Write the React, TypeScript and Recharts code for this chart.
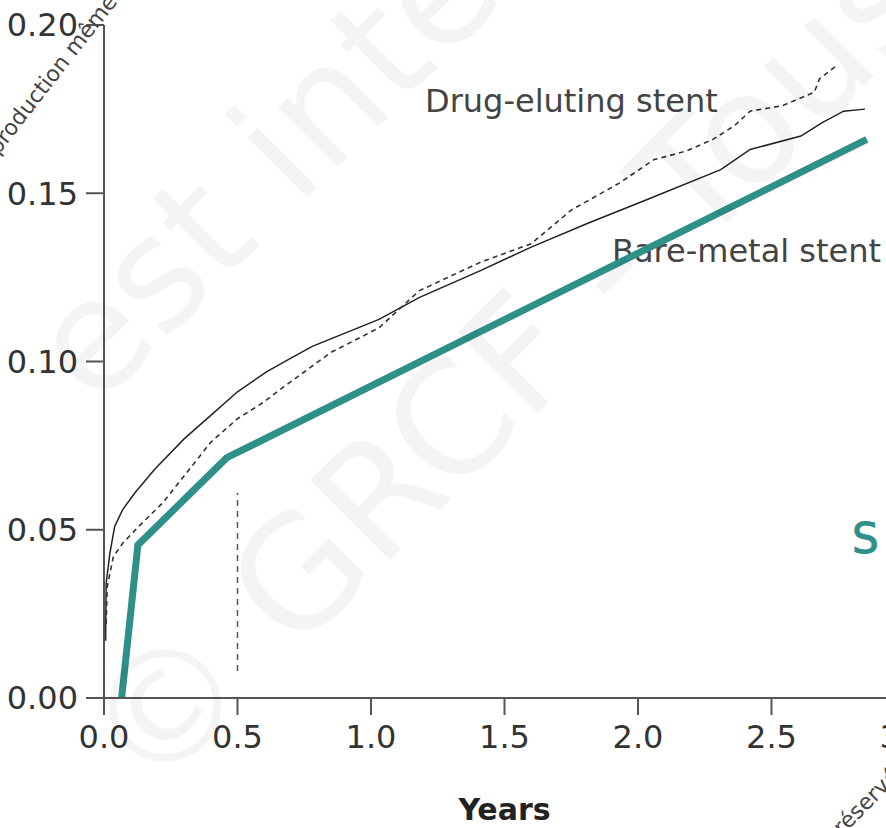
import React from 'react'
import { LineChart, Line, XAxis, YAxis, ReferenceLine } from 'recharts'

// cumulative event rate
const bareMetalYears = [0.006, 0.008, 0.022, 0.04, 0.07, 0.116, 0.19, 0.3, 0.4, 0.5, 0.61, 0.7, 0.78, 1.03, 1.18, 1.41, 1.6, 1.81, 2.03, 2.31, 2.42, 2.61, 2.69, 2.77, 2.85]
const bareMetalRate = [0.017, 0.034, 0.043, 0.051, 0.056, 0.061, 0.068, 0.077, 0.084, 0.091, 0.097, 0.101, 0.1045, 0.1125, 0.119, 0.127, 0.134, 0.141, 0.148, 0.157, 0.163, 0.167, 0.171, 0.1744, 0.175]

const drugElutingYears = [0.008, 0.012, 0.035, 0.07, 0.13, 0.22, 0.3, 0.4, 0.5, 0.6, 0.66, 0.85, 1.03, 1.18, 1.41, 1.6, 1.75, 1.93, 2.06, 2.18, 2.28, 2.36, 2.42, 2.54, 2.66, 2.68, 2.745]
const drugElutingRate = [0.022, 0.033, 0.042, 0.046, 0.051, 0.058, 0.066, 0.076, 0.083, 0.088, 0.0917, 0.1027, 0.11, 0.121, 0.1295, 0.135, 0.145, 0.153, 0.16, 0.1625, 0.166, 0.17, 0.1744, 0.176, 0.18, 0.184, 0.188]

// piecewise trend drawn over the curves
const trendYears = [0.066, 0.127, 0.46, 2.857]
const trendRate = [0, 0.0455, 0.0714, 0.166]

// dashed marker at six months
const markerYear = 0.5
const markerRange = [0.008, 0.061]

const xTicks = [0, 0.5, 1, 1.5, 2, 2.5, 3]
const yTicks = [0, 0.05, 0.1, 0.15, 0.2]

const zip = (xs: number[], ys: number[]) => xs.map((x, i) => ({ x, y: ys[i] }))

const bareMetal = zip(bareMetalYears, bareMetalRate)
const drugEluting = zip(drugElutingYears, drugElutingRate)
const trend = zip(trendYears, trendRate)

const font = 'DejaVu Sans'
const axisGrey = '#555'
const teal = '#2f8f89'

export default function App() {
  return (
    <div style={{ position: 'absolute', left: 0, top: 0, width: 886, height: 828, overflow: 'hidden', background: '#fff' }}>
      <LineChart width={930} height={828} margin={{ top: 25, right: 25, left: 0, bottom: 0 }}>
        <XAxis
          type="number"
          dataKey="x"
          domain={[0, 3]}
          ticks={xTicks}
          tickFormatter={(v: number) => v.toFixed(1)}
          height={130}
          tickSize={17}
          tickMargin={10}
          axisLine={{ stroke: axisGrey, strokeWidth: 2 }}
          tickLine={{ stroke: axisGrey, strokeWidth: 2 }}
          tick={{ fill: '#333', fontSize: 32, fontFamily: font }}
          label={{ value: 'Years', position: 'insideBottom', offset: 8, fill: '#222', fontSize: 30, fontWeight: 700, fontFamily: font }}
        />
        <YAxis
          type="number"
          domain={[0, 0.2]}
          ticks={yTicks}
          tickFormatter={(v: number) => v.toFixed(2)}
          width={104}
          tickSize={18}
          tickMargin={8}
          axisLine={{ stroke: axisGrey, strokeWidth: 2 }}
          tickLine={{ stroke: axisGrey, strokeWidth: 2 }}
          tick={{ fill: '#333', fontSize: 32, fontFamily: font }}
        />
        <ReferenceLine
          segment={[{ x: markerYear, y: markerRange[0] }, { x: markerYear, y: markerRange[1] }]}
          stroke="#555"
          strokeWidth={1.5}
          strokeDasharray="6 5"
        />
        <Line data={bareMetal} dataKey="y" type="linear" stroke="#222" strokeWidth={1.5} dot={false} isAnimationActive={false} />
        <Line data={drugEluting} dataKey="y" type="linear" stroke="#333" strokeWidth={1.6} strokeDasharray="5 4" dot={false} isAnimationActive={false} />
        <Line data={trend} dataKey="y" type="linear" stroke={teal} strokeWidth={7} dot={false} isAnimationActive={false} />
        <text x={425} y={112} fontFamily={font} fontSize={32} fill="#444">Drug-eluting stent</text>
        <text x={612} y={262} fontFamily={font} fontSize={32} fill="#444">Bare-metal stent</text>
        <text x={852} y={553} fontFamily={font} fontSize={42} fill={teal} stroke={teal} strokeWidth={1}>S</text>
      </LineChart>
      <svg width={886} height={828} style={{ position: 'absolute', left: 0, top: 0, pointerEvents: 'none' }}>
        <g fill="#000" fillOpacity={0.045} fontFamily={font} fontSize={155}>
          <text x={95} y={410} transform="rotate(-45 95 410)">est interdite</text>
          <text x={150} y={800} transform="rotate(-45 150 800)">© GRCF - Tous droits</text>
        </g>
        <g fill="#444" fontFamily={font} fontSize={22}>
          <text x={118} y={2} textAnchor="end" transform="rotate(-52 118 2)">Reproduction même</text>
          <text x={842} y={836} transform="rotate(-45 842 836)">réservés</text>
        </g>
      </svg>
    </div>
  )
}
